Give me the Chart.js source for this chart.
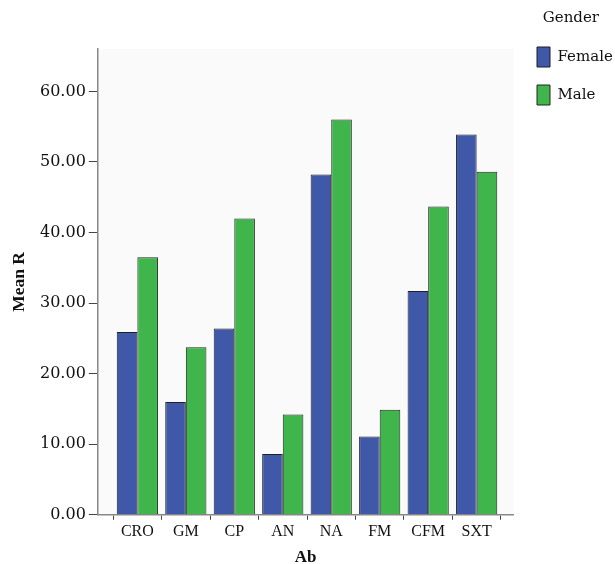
<!DOCTYPE html>
<html>
<head>
<meta charset="utf-8">
<script src="https://cdn.jsdelivr.net/npm/chart.js@4"></script>
<style>
  html, body { margin: 0; padding: 0; background: #fff; }
  #wrap { width: 615px; height: 564px; }
</style>
</head>
<body>
<div id="wrap"><canvas id="meanChart"></canvas></div>
<script>
// Mean R by antibiotic and gender
const categories = ['CRO', 'GM', 'CP', 'AN', 'NA', 'FM', 'CFM', 'SXT'];
const femaleValues = [25.9, 16.0, 26.4, 8.6, 48.2, 11.1, 31.7, 53.9];
const maleValues = [36.5, 23.75, 42.0, 14.2, 56.0, 14.9, 43.7, 48.6];

// light grey plot background
const plotBg = {
  id: 'plotBg',
  beforeDraw(chart) {
    const a = chart.chartArea;
    const ctx = chart.ctx;
    ctx.save();
    ctx.fillStyle = '#fafafa';
    ctx.fillRect(a.left, a.top, a.right - a.left, a.bottom - a.top);
    ctx.restore();
  }
};

// legend sits higher than the plot, in the top right corner
const legendSpot = {
  id: 'legendSpot',
  afterLayout(chart) {
    const lg = chart.legend;
    const w = lg.width, h = lg.height;
    lg.top = 11;
    lg.bottom = lg.top + h;
    lg.left = 519;
    lg.right = lg.left + w;
  }
};

const toPoints = vals => vals.map((v, i) => ({ x: i, y: v }));

const ctx = document.getElementById('meanChart').getContext('2d');
new Chart(ctx, {
  type: 'bar',
  data: {
    datasets: [{
      label: 'Female',
      data: toPoints(femaleValues),
      backgroundColor: '#3f58a8',
      borderColor: '#1c1f2a',
      borderWidth: 1,
    }, {
      label: 'Male',
      data: toPoints(maleValues),
      backgroundColor: '#3fb54b',
      borderColor: '#1c2a1e',
      borderWidth: 1,
    }]
  },
  options: {
    responsive: true,
    maintainAspectRatio: false,
    animation: false,
    layout: { padding: { top: 49, right: -2, bottom: -2, left: 9 } },
    datasets: { bar: { categoryPercentage: 0.85, barPercentage: 1.0 } },
    scales: {
      x: {
        type: 'linear',
        offset: false,
        min: -0.816,
        max: 7.754,
        grid: { display: true, drawOnChartArea: false, drawTicks: true, tickLength: 5, color: '#444' },
        border: { display: true, color: '#888', width: 1.5 },
        ticks: {
          stepSize: 1,
          includeBounds: false,
          autoSkip: false,
          maxRotation: 0,
          padding: 2,
          color: '#111',
          font: { family: 'Liberation Serif', size: 16 },
          callback: v => categories[v] ?? ''
        },
        title: {
          display: true,
          text: 'Ab',
          color: '#111',
          padding: { top: 6, bottom: 0 },
          font: { family: 'Liberation Serif', size: 17, weight: 'bold', lineHeight: 1 }
        }
      },
      y: {
        min: 0,
        max: 66,
        afterBuildTicks: scale => {
          scale.ticks = scale.ticks.filter(t => t.value % 10 === 0);
        },
        grid: { display: true, drawOnChartArea: false, drawTicks: true, tickLength: 9, color: '#444' },
        border: { display: true, color: '#888', width: 1.5 },
        ticks: {
          stepSize: 10,
          padding: 3,
          color: '#111',
          font: { family: 'DejaVu Serif', size: 16 },
          callback: v => v.toFixed(2)
        },
        title: {
          display: true,
          text: 'Mean R',
          color: '#111',
          padding: { top: 0, bottom: 7 },
          font: { family: 'Liberation Serif', size: 17.5, weight: 'bold' }
        }
      }
    },
    plugins: {
      legend: {
        position: 'right',
        align: 'start',
        title: {
          display: true,
          text: 'Gender',
          color: '#111',
          padding: { top: 0, bottom: 0 },
          font: { family: 'DejaVu Serif', size: 15 }
        },
        labels: {
          boxWidth: 13,
          boxHeight: 20,
          padding: 18,
          color: '#111',
          font: { family: 'DejaVu Serif', size: 15 }
        }
      },
      tooltip: { enabled: false }
    }
  },
  plugins: [plotBg, legendSpot]
});
</script>
</body>
</html>
